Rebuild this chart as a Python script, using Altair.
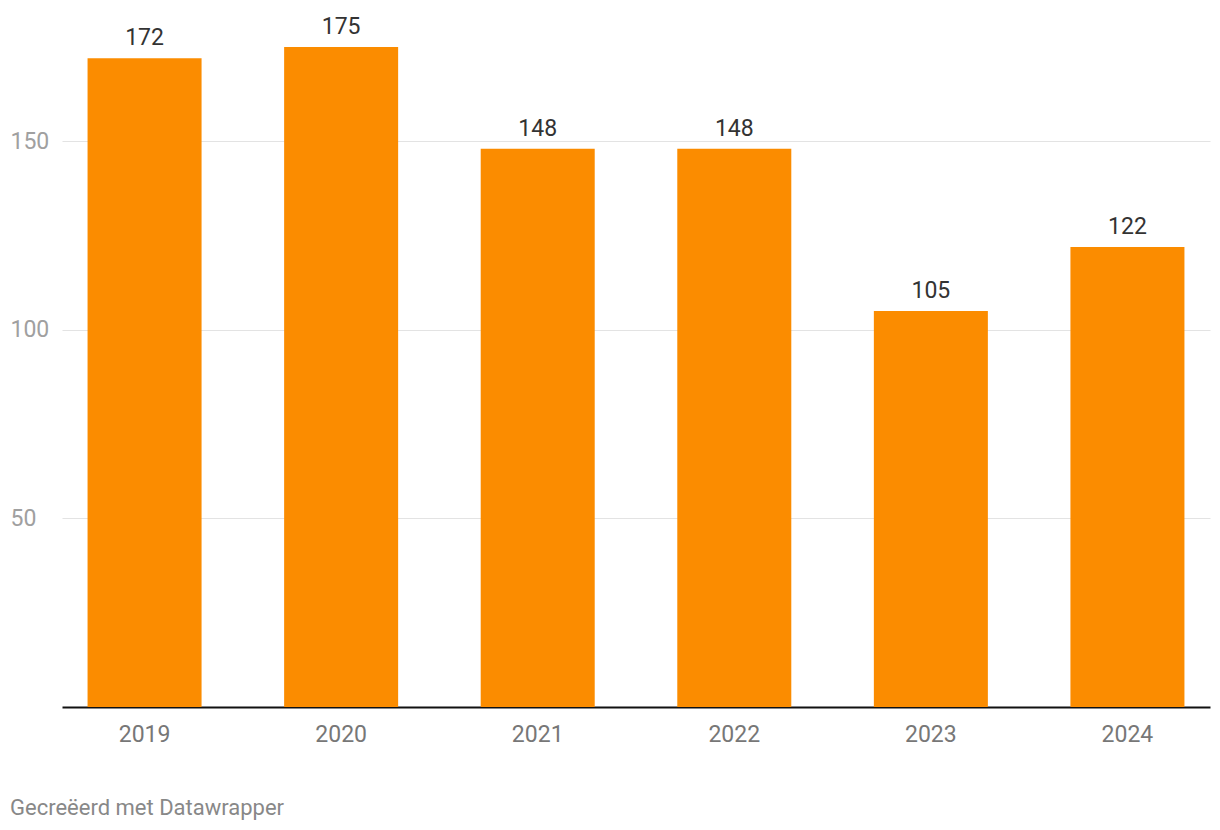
import altair as alt
import pandas as pd

years = ["2019", "2020", "2021", "2022", "2023", "2024"]
values = [172, 175, 148, 148, 105, 122]

df = pd.DataFrame({"year": years, "value": values})

FONT = "Roboto"

x = alt.X("year:N", sort=years, title=None,
          scale=alt.Scale(paddingInner=0.42, paddingOuter=0.13),
          axis=alt.Axis(labelAngle=0, labelFontSize=23, labelColor="#777777",
                        labelFont=FONT, labelPadding=16, ticks=False, tickSize=0,
                        domain=True, domainColor="#111111", domainWidth=2,
                        grid=False))
y = alt.Y("value:Q", title=None,
          scale=alt.Scale(domain=[0, 175], nice=False, zero=True),
          axis=alt.Axis(values=[50, 100, 150], labelFontSize=23, labelColor="#a0a0a0",
                        labelFont=FONT, labelAlign="left", labelPadding=52,
                        ticks=False, tickSize=0, domain=False,
                        grid=True, gridColor="#e3e3e3", gridWidth=1))

bars = alt.Chart(df).mark_bar(color="#fb8c00").encode(x=x, y=y)
labels = alt.Chart(df).mark_text(baseline="alphabetic", dy=-13, fontSize=23,
                                 font=FONT, color="#333333").encode(
    x=alt.X("year:N", sort=years), y="value:Q", text="value:Q")

chart = alt.layer(bars, labels).properties(
    width=1148, height=660,
    background="white",
    autosize=alt.AutoSizeParams(type="none"),
    padding={"left": 54, "top": 39, "right": 2, "bottom": 120},
    title=alt.TitleParams("Gecreëerd met Datawrapper", orient="bottom", anchor="start",
                          align="left", frame="group",
                          font=FONT, fontSize=22, fontWeight="normal", color="#888888",
                          dx=-52, offset=52),
).configure_view(strokeWidth=0, stroke="transparent")

chart.save("out.html", embed_options={"renderer": "svg", "actions": False})
